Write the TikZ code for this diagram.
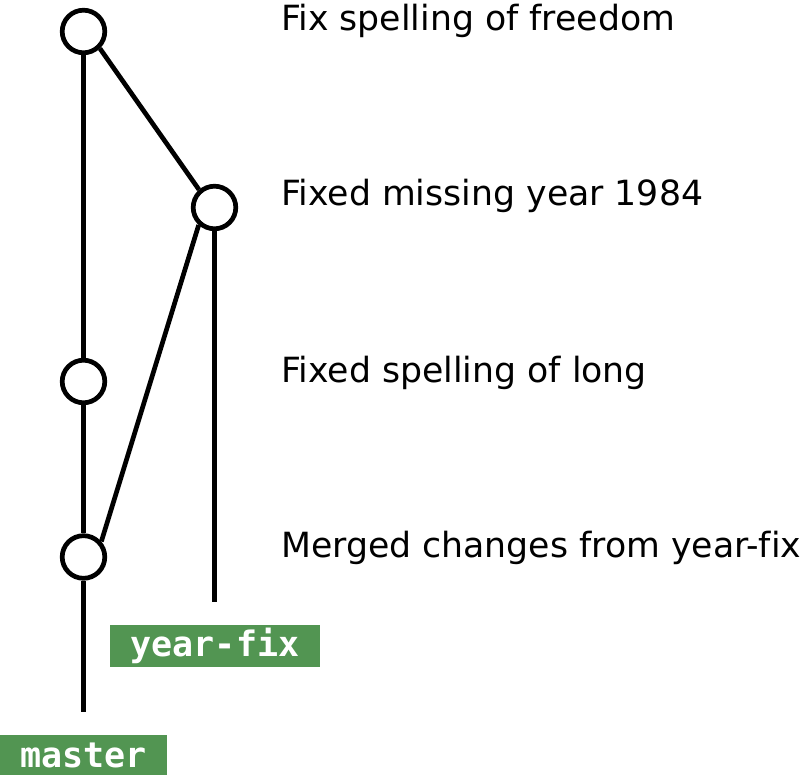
\documentclass[tikz,border=0pt]{standalone}
\usepackage{fontspec}
\setmainfont{DejaVu Sans}[Ligatures={NoCommon}]
\newfontfamily\monofont{DejaVu Sans Mono}
\definecolor{branchgreen}{RGB}{82,149,82}
\begin{document}
\begin{tikzpicture}[x=1pt,y=-1pt,
  commit/.style={circle,draw,line width=4.7pt,fill=white,minimum size=42.6pt,inner sep=0pt},
  edge/.style={line width=4.7pt},
  msg/.style={anchor=base west,inner sep=0pt,font=\fontsize{34.7}{40}\selectfont},
  branch/.style={fill=branchgreen,text=white,inner sep=0pt,font=\monofont\bfseries\fontsize{35}{40}\selectfont}]
\useasboundingbox (0,0) rectangle (800,775);
\node[commit] (c1) at (83.5,31.5) {};
\node[commit] (c2) at (214.5,207.5) {};
\node[commit] (c3) at (83.5,381.5) {};
\node[commit] (c4) at (83.5,557) {};
\coordinate (mend) at (83.5,712);
\coordinate (yend) at (214.5,602);
\draw[edge] (c1) -- (c3);
\draw[edge] (c1.314) -- (c2.131);
\draw[edge] (c2.228) -- (c4.41);
\draw[edge] (c3) -- (c4);
\draw[edge] (c4) -- (mend);
\draw[edge] (c2) -- (yend);
\node[msg] (m1) at (281,31) {Fix spelling of freedom};
\node[msg] (m2) at (281,206) {Fixed missing year 1984};
\node[msg] (m3) at (281,382) {Fixed spelling of long};
\node[msg] (m4) at (281,557) {Merged changes from year-fix};
\node[branch,minimum width=210pt,minimum height=42pt] (yf) at (215,646) {year-fix};
\node[branch,minimum width=167pt,minimum height=40pt] (ms) at (83.5,755) {master};
\end{tikzpicture}
\end{document}
